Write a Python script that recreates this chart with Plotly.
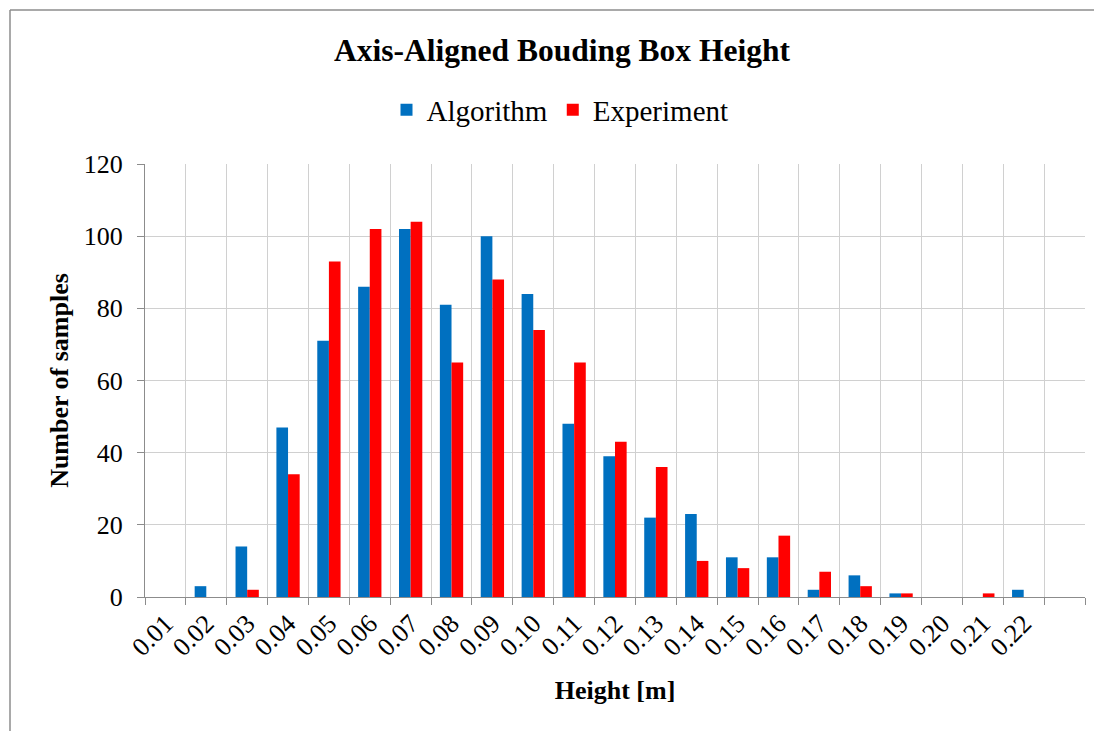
import plotly.graph_objects as go

# Height bins (m) as category labels; last category has no label in the source chart
categories = ["0.01", "0.02", "0.03", "0.04", "0.05", "0.06", "0.07", "0.08", "0.09",
              "0.10", "0.11", "0.12", "0.13", "0.14", "0.15", "0.16", "0.17", "0.18",
              "0.19", "0.20", "0.21", "0.22", " "]
algorithm = [0, 3, 14, 47, 71, 86, 102, 81, 100, 84, 48, 39,
             22, 23, 11, 11, 2, 6, 1, 0, 0, 2, 0]
experiment = [0, 0, 2, 34, 93, 102, 104, 65, 88, 74, 65, 43,
              36, 10, 8, 17, 7, 3, 1, 0, 1, 0, 0]

FONT = "Liberation Serif, Times New Roman, serif"

# page offset (body margin) compensation
OFF = 8
PL, PR, PT, PB = 145, 1085, 164, 597   # plot area in page pixels
W, H = 1102 - OFF, 731 - OFF
PW, PH = PR - PL, PB - PT

fig = go.Figure()
fig.add_trace(go.Bar(x=categories, y=algorithm, name="Algorithm",
                     marker=dict(color="#0070C0", line=dict(width=0))))
fig.add_trace(go.Bar(x=categories, y=experiment, name="Experiment",
                     marker=dict(color="#FF0000", line=dict(width=0))))

fig.update_layout(
    width=W, height=H,
    paper_bgcolor="white", plot_bgcolor="white",
    barmode="group", bargap=0.43, bargroupgap=0,
    margin=dict(l=PL - OFF, r=W - (PR - OFF), t=PT - OFF, b=H - (PB - OFF),
                autoexpand=False),
    font=dict(family=FONT, color="black", size=24),
    title=dict(text="<b>Axis-Aligned Bouding Box Height</b>",
               font=dict(family=FONT, size=31.5, color="black"),
               x=(562 - PL) / PW, xanchor="center", xref="paper",
               y=1 - (50 - OFF) / H, yanchor="middle", yref="container"),
    legend=dict(orientation="h", x=(560 - PL) / PW, xanchor="center",
                y=(PB - 110) / PH, yanchor="middle",
                font=dict(family=FONT, size=29, color="black"),
                itemwidth=30, traceorder="normal", bgcolor="rgba(0,0,0,0)"),
    xaxis=dict(type="category", categoryorder="array", categoryarray=categories,
               tickson="boundaries", tickangle=-45,
               showgrid=True, gridcolor="#d0d0d0", gridwidth=1,
               showline=True, linecolor="#8c8c8c", linewidth=1,
               ticks="outside", ticklen=7, tickcolor="#8c8c8c",
               tickfont=dict(family=FONT, size=26),
               zeroline=False,
               title=dict(text="<b>Height [m]</b>", font=dict(family=FONT, size=26),
                          standoff=19)),
    yaxis=dict(range=[0, 120], dtick=20, tick0=0,
               showgrid=True, gridcolor="#d0d0d0", gridwidth=1,
               showline=True, linecolor="#8c8c8c", linewidth=1,
               ticks="outside", ticklen=7, tickcolor="#8c8c8c",
               tickfont=dict(family=FONT, size=26), ticklabelstandoff=9,
               zeroline=False,
               title=dict(text="<b>Number of samples</b>", font=dict(family=FONT, size=26),
                          standoff=7)),
)

# Chart-area border (top and left edges visible in the reference)
fig.add_shape(type="line", xref="paper", yref="paper",
              x0=(10 - PL) / PW, x1=(1110 - PL) / PW,
              y0=(PB - 10) / PH, y1=(PB - 10) / PH,
              line=dict(color="#8c8c8c", width=1.5))
fig.add_shape(type="line", xref="paper", yref="paper",
              x0=(10 - PL) / PW, x1=(10 - PL) / PW,
              y0=(PB - 10) / PH, y1=(PB - 740) / PH,
              line=dict(color="#8c8c8c", width=1.5))

fig.write_html("out.html")
